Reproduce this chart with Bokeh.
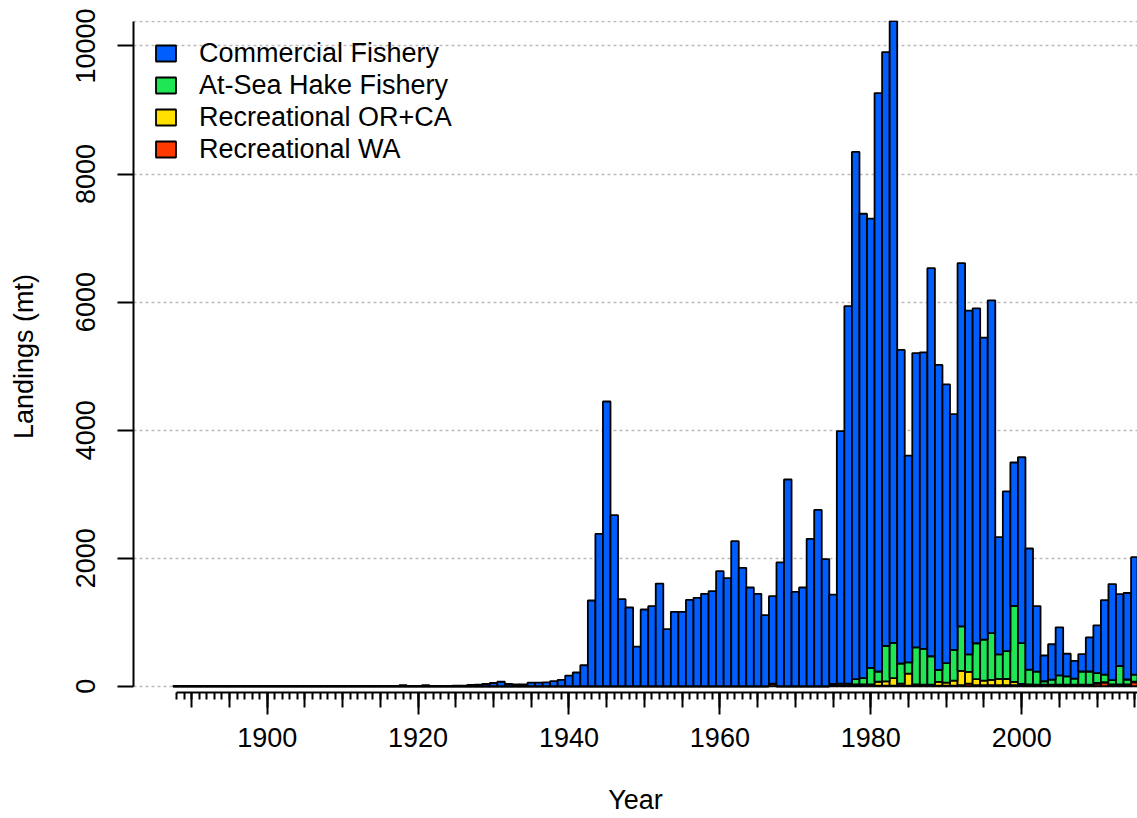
from bokeh.plotting import figure
from bokeh.models import (ColumnDataSource, FixedTicker, LinearAxis, Range1d,
                          Legend, LegendItem, Grid)
from bokeh.embed import file_html
from bokeh.resources import INLINE

years = list(range(1888, 2016))

commercial = [
    0, 0,                                                    # 1888-1889
    0, 0, 0, 0, 0, 0, 0, 0, 0, 0,                            # 1890s
    0, 0, 0, 0, 0, 0, 0, 0, 0, 0,                            # 1900s
    0, 0, 0, 0, 0, 0, 0, 0, 15, 0,                           # 1910s
    0, 15, 0, 0, 5, 10, 10, 20, 25, 35,                      # 1920s
    50, 70, 35, 30, 30, 55, 55, 60, 80, 100,                 # 1930s
    167, 214, 328, 1339, 2381, 4447, 2672, 1359, 1230, 620,  # 1940s
    1198, 1250, 1604, 891, 1162, 1162, 1350, 1381, 1443, 1485,   # 1950s
    1797, 1688, 2266, 1849, 1542, 1443, 1110, 1366, 1933, 3229,  # 1960s
    1474, 1542, 2303, 2754, 1985, 1395, 3944, 5898, 8235, 7255,  # 1970s
    7018, 9035, 9275, 9711, 4897, 3228, 4595, 4631, 6061, 4763,  # 1980s
    4354, 3681, 5672, 5370, 5230, 4718, 5200, 1830, 2494, 2239,  # 1990s
    2903, 1891, 1024, 402, 554, 750, 354, 278, 270, 533,         # 2000s
    745, 1163, 1501, 1121, 1351, 1833,                           # 2010-2015
]

hake = [
    0, 0,
    0, 0, 0, 0, 0, 0, 0, 0, 0, 0,
    0, 0, 0, 0, 0, 0, 0, 0, 0, 0,
    0, 0, 0, 0, 0, 0, 0, 0, 0, 0,
    0, 0, 0, 0, 0, 0, 0, 0, 0, 0,
    0, 0, 0, 0, 0, 0, 0, 0, 0, 0,
    0, 0, 0, 0, 0, 0, 0, 0, 0, 0,
    0, 0, 0, 0, 0, 0, 0, 0, 0, 0,
    0, 0, 0, 0, 0, 0, 0, 0, 0, 0,
    0, 0, 0, 0, 0, 0, 0, 0, 80, 95,
    257, 160, 553, 551, 313, 176, 578, 559, 443, 187,
    303, 481, 697, 273, 561, 639, 728, 382, 435, 1187,
    638, 230, 203, 53, 77, 145, 128, 94, 205, 205,
    155, 117, 65, 286, 75, 112,
]

rec_orca = [
    0, 0,
    0, 0, 0, 0, 0, 0, 0, 0, 0, 0,
    0, 0, 0, 0, 0, 0, 0, 0, 0, 0,
    0, 0, 0, 0, 0, 0, 0, 0, 0, 0,
    0, 0, 0, 0, 0, 0, 0, 0, 0, 0,
    0, 0, 0, 0, 0, 0, 0, 0, 0, 0,
    0, 0, 0, 0, 0, 0, 0, 0, 0, 0,
    0, 0, 0, 0, 0, 0, 0, 0, 0, 0,
    0, 0, 0, 0, 0, 0, 0, 0, 0, 0,
    0, 0, 0, 0, 0, 25, 30, 30, 20, 20,
    20, 60, 67, 115, 32, 187, 25, 20, 20, 58,
    47, 78, 224, 185, 95, 73, 85, 101, 98, 53,
    20, 20, 15, 15, 15, 15, 15, 15, 15, 15,
    10, 10, 10, 15, 10, 10,
]

rec_wa = [
    0, 0,
    0, 0, 0, 0, 0, 0, 0, 0, 0, 0,
    0, 0, 0, 0, 0, 0, 0, 0, 0, 0,
    0, 0, 0, 0, 0, 0, 0, 0, 0, 0,
    0, 0, 0, 0, 0, 0, 0, 0, 0, 0,
    0, 0, 0, 0, 0, 0, 0, 0, 0, 0,
    0, 0, 0, 0, 0, 0, 0, 0, 0, 0,
    0, 0, 0, 0, 0, 0, 0, 0, 0, 0,
    0, 0, 0, 0, 0, 0, 0, 40, 0, 0,
    0, 0, 0, 0, 0, 10, 10, 10, 10, 10,
    10, 10, 10, 10, 10, 10, 5, 5, 5, 10,
    10, 10, 15, 40, 15, 15, 15, 15, 15, 15,
    15, 10, 10, 10, 10, 10, 10, 10, 10, 10,
    40, 55, 20, 15, 20, 60,
]

series_names = ["Commercial Fishery", "At-Sea Hake Fishery",
                "Recreational OR+CA", "Recreational WA"]
y_ticks = [0, 2000, 4000, 6000, 8000, 10000]
x_label_ticks = [1900, 1920, 1940, 1960, 1980, 2000]
top_line = 10387

C_BLUE = "#005EFF"
C_GREEN = "#1EE655"
C_YELLOW = "#FFE000"
C_RED = "#FF3A00"
FONT = "Liberation Sans"

x_start, x_end = 1882.28, 2015.35
y_start, y_end = -98, 10398

src = ColumnDataSource(dict(year=years, commercial=commercial, hake=hake,
                            rec_orca=rec_orca, rec_wa=rec_wa))

p = figure(width=1137, height=818, x_range=Range1d(x_start, x_end),
           y_range=Range1d(y_start, y_end), output_backend="svg",
           toolbar_location=None, x_axis_type=None, y_axis_type=None,
           min_border_left=133, min_border_right=0, min_border_top=20,
           min_border_bottom=126)
p.outline_line_color = None
p.background_fill_color = "white"
p.border_fill_color = "white"

p.add_layout(Grid(dimension=1, ticker=FixedTicker(ticks=y_ticks + [top_line]),
                  grid_line_color="#BBBBBB", grid_line_dash="3 3",
                  grid_line_width=1.5))

rs = p.vbar_stack(["rec_wa", "rec_orca", "hake", "commercial"], x="year",
                  width=1.0, color=[C_RED, C_YELLOW, C_GREEN, C_BLUE],
                  line_color="black", line_width=1.8, source=src)

# y axis
yax = LinearAxis(ticker=FixedTicker(ticks=y_ticks, minor_ticks=[]),
                 bounds=(0, top_line), axis_label="Landings (mt)",
                 major_label_orientation="vertical")
yax.major_tick_out = 16
yax.major_tick_in = 0
yax.minor_tick_out = 0
yax.axis_line_width = 2
yax.major_tick_line_width = 2
yax.major_label_text_font = FONT
yax.major_label_text_font_size = "27px"
yax.major_label_text_color = "black"
yax.major_label_standoff = 22
yax.axis_label_text_font = FONT
yax.axis_label_text_font_size = "27px"
yax.axis_label_text_font_style = "normal"
yax.axis_label_text_color = "black"
yax.axis_label_standoff = 35
p.add_layout(yax, "left")

# x axis A: yearly and 5-year ticks, no labels
H_A = 15
xax1 = LinearAxis(ticker=FixedTicker(ticks=list(range(1890, 2016, 5)),
                                     minor_ticks=list(range(1888, 2017))),
                  bounds=(1888, x_end))
xax1.major_tick_out = H_A
xax1.major_tick_in = 0
xax1.minor_tick_out = 7
xax1.minor_tick_in = 0
xax1.axis_line_width = 2
xax1.major_tick_line_width = 2
xax1.minor_tick_line_width = 2
xax1.major_label_text_font_size = "0px"
xax1.major_label_text_alpha = 0
xax1.major_label_standoff = 0
p.add_layout(xax1, "below")

# x axis B: 20-year labelled ticks, ticks reaching up to the first axis line
xax2 = LinearAxis(ticker=FixedTicker(ticks=x_label_ticks, minor_ticks=[]),
                  bounds=(1888, x_end), axis_label="Year")
xax2.axis_line_color = None
xax2.major_tick_in = H_A
xax2.major_tick_out = 22 - H_A
xax2.minor_tick_out = 0
xax2.major_tick_line_width = 2
xax2.major_label_text_font = FONT
xax2.major_label_text_font_size = "27px"
xax2.major_label_text_color = "black"
xax2.major_label_standoff = 13
xax2.axis_label_text_font = FONT
xax2.axis_label_text_font_size = "27px"
xax2.axis_label_text_font_style = "normal"
xax2.axis_label_text_color = "black"
xax2.axis_label_standoff = 35
p.add_layout(xax2, "below")

legend = Legend(items=[LegendItem(label=series_names[0], renderers=[rs[3]]),
                       LegendItem(label=series_names[1], renderers=[rs[2]]),
                       LegendItem(label=series_names[2], renderers=[rs[1]]),
                       LegendItem(label=series_names[3], renderers=[rs[0]])],
                location=(20, 527))
legend.padding = 0
legend.margin = 0
legend.spacing = 0
legend.label_height = 32
legend.glyph_width = 25
legend.glyph_height = 20
legend.label_standoff = 21
legend.label_text_font = FONT
legend.label_text_font_size = "27px"
legend.label_text_color = "black"
legend.border_line_color = None
legend.background_fill_alpha = 0
p.add_layout(legend, "center")

open("out.html", "w").write(file_html(p, INLINE))
